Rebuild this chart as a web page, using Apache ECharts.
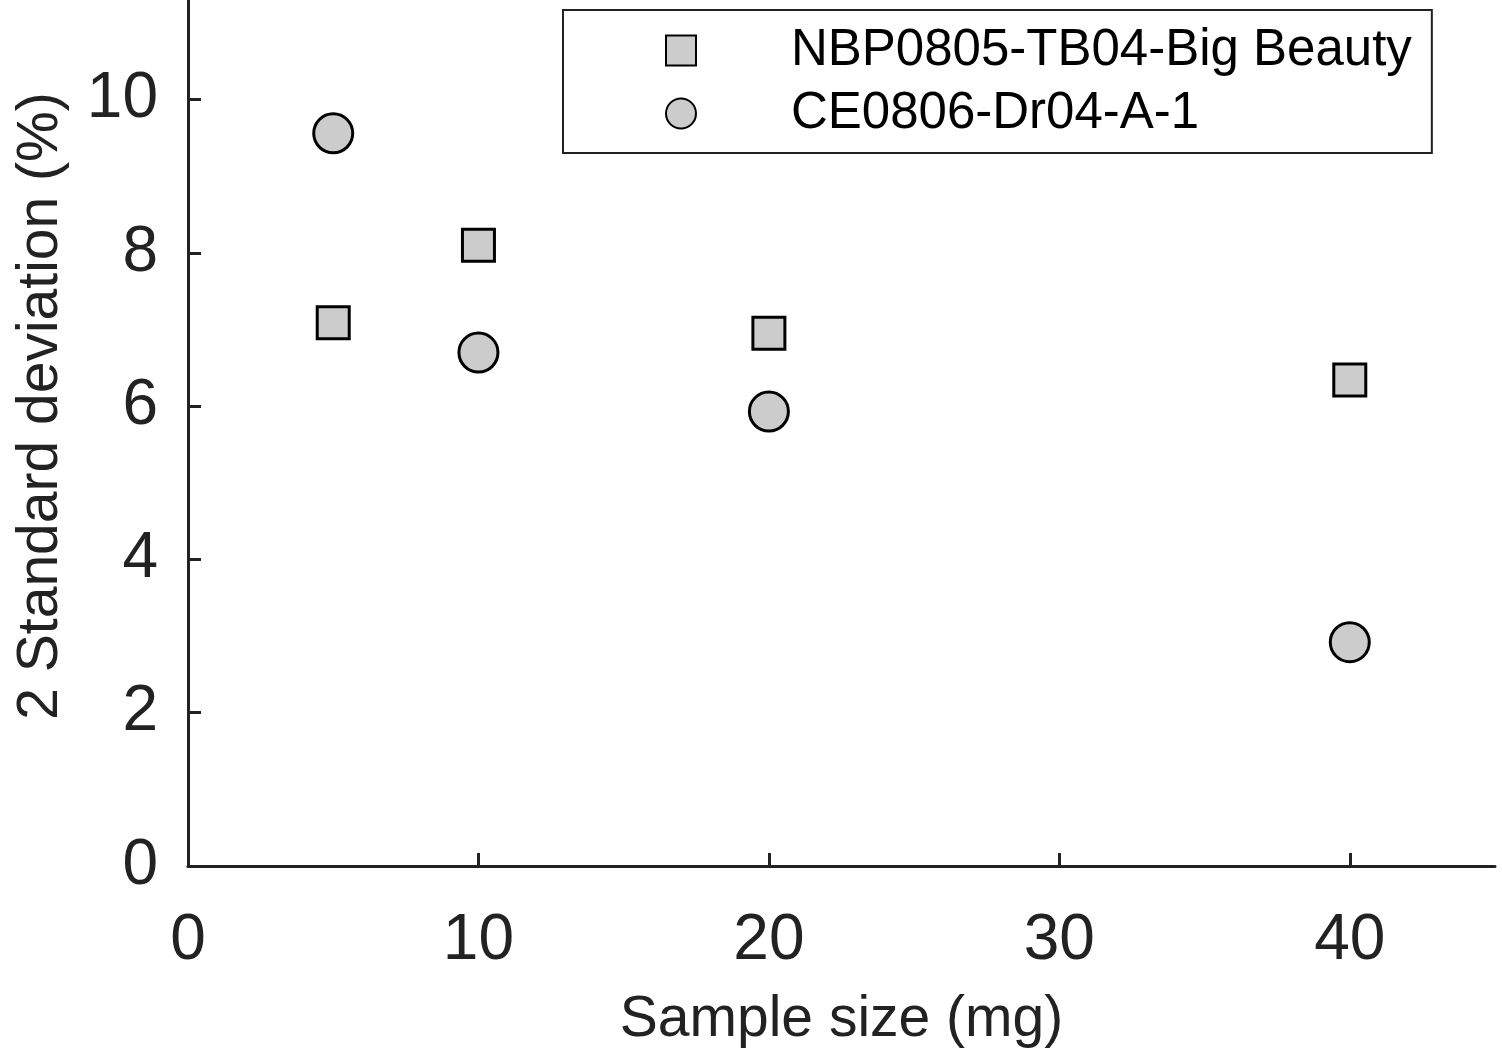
<!DOCTYPE html>
<html lang="en">
<head>
    <meta charset="UTF-8">
    <script src="https://cdn.jsdelivr.net/npm/echarts@6/dist/echarts.min.js"></script>
    <title>sample size vs 2SD</title>
    <style>
        html, body { margin: 0; padding: 0; background: #fff; }
    </style>
</head>
<body>
    <div id="main" style="width: 1502px;height: 1057px;"></div>
    <script>
        var seriesNames = ['NBP0805-TB04-Big Beauty', 'CE0806-Dr04-A-1'];
        var sampleSize = [5, 10, 20, 40];
        var bigBeauty = [7.09, 8.10, 6.95, 6.34];
        var dr04 = [9.56, 6.70, 5.93, 2.92];
        var xTicks = [0, 10, 20, 30, 40];
        var yTicks = [0, 2, 4, 6, 8, 10];

        var font = '"Liberation Sans", Arial, sans-serif';
        var ink = '#222';

        function pairs(xs, ys) {
            return xs.map(function (x, i) { return [x, ys[i]]; });
        }

        var chart = echarts.init(document.getElementById('main'));
        chart.setOption({
            animation: false,
            // the figure is cropped at the top, so the y axis runs past the frame
            grid: { left: 188, right: 7, top: 0, bottom: 191 },
            legend: {
                orient: 'vertical',
                left: 563,
                top: 10,
                padding: [15, 20, 14, 102],
                borderColor: ink,
                borderWidth: 2,
                itemWidth: 30,
                itemHeight: 30,
                itemGap: 12,
                textStyle: { fontFamily: font, fontSize: 51, color: '#000', padding: [0, 0, 0, 90] },
                data: [
                    { name: seriesNames[0], icon: 'rect' },
                    { name: seriesNames[1], icon: 'circle' }
                ]
            },
            xAxis: {
                type: 'value',
                min: 0,
                max: 45,
                interval: 10,
                name: 'Sample size (mg)',
                nameLocation: 'middle',
                nameGap: 126,
                nameTextStyle: { fontFamily: font, fontSize: 57, color: ink },
                splitLine: { show: false },
                axisLine: { lineStyle: { color: ink, width: 3 } },
                axisTick: { inside: true, length: 13, lineStyle: { color: ink, width: 3 } },
                axisLabel: {
                    fontFamily: font, fontSize: 64, color: ink, margin: 43, showMaxLabel: false,
                    formatter: function (v) { return xTicks.indexOf(v) >= 0 ? String(v) : ''; }
                }
            },
            yAxis: {
                type: 'value',
                min: 0,
                max: 11.3,
                interval: 2,
                name: '2 Standard deviation (%)',
                nameLocation: 'middle',
                nameGap: 118,
                nameTextStyle: { fontFamily: font, fontSize: 57, color: ink, padding: [0, 0, 0, 54] },
                splitLine: { show: false },
                axisLine: { lineStyle: { color: ink, width: 3 } },
                axisTick: { inside: true, length: 13, lineStyle: { color: ink, width: 3 } },
                axisLabel: {
                    fontFamily: font, fontSize: 64, color: ink, margin: 30, showMaxLabel: false,
                    formatter: function (v) { return yTicks.indexOf(v) >= 0 ? String(v) : ''; }
                }
            },
            series: [
                {
                    name: seriesNames[0],
                    type: 'scatter',
                    symbol: 'rect',
                    symbolSize: 32,
                    data: pairs(sampleSize, bigBeauty),
                    itemStyle: { color: '#cccccc', borderColor: '#000', borderWidth: 3, opacity: 1 }
                },
                {
                    name: seriesNames[1],
                    type: 'scatter',
                    symbol: 'circle',
                    symbolSize: 39,
                    data: pairs(sampleSize, dr04),
                    itemStyle: { color: '#cccccc', borderColor: '#000', borderWidth: 3, opacity: 1 }
                }
            ]
        });
    </script>
</body>
</html>
